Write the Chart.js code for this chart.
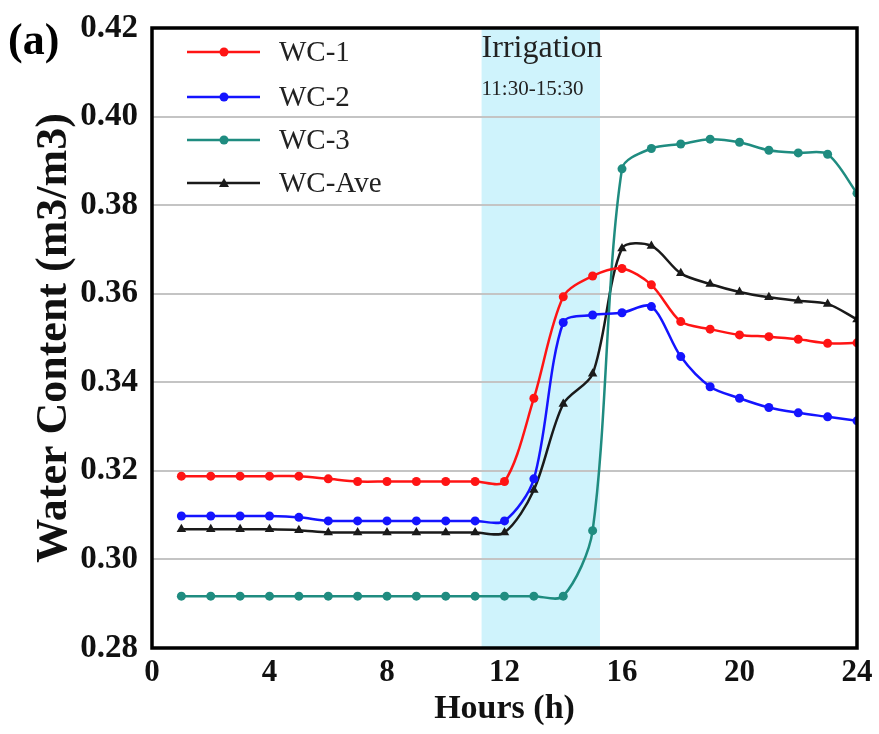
<!DOCTYPE html>
<html>
<head>
<meta charset="utf-8">
<script src="https://cdn.jsdelivr.net/npm/chart.js@4.4.1/dist/chart.umd.min.js"></script>
<style>
  html, body { margin: 0; padding: 0; background: #fff; }
  #wrap { width: 879px; height: 734px; }
</style>
</head>
<body>
<div id="wrap"><canvas id="myChart"></canvas></div>
<script>
// Horas (eixo x)
const hours = [1, 2, 3, 4, 5, 6, 7, 8, 9, 10, 11, 12, 13, 14, 15, 16, 17, 18, 19, 20, 21, 22, 23, 24];
// Series
const wc1 = [0.3188, 0.3188, 0.3188, 0.3188, 0.3188, 0.3182, 0.3176, 0.3176, 0.3176, 0.3176, 0.3176, 0.3176,
  0.3364, 0.3593, 0.3640, 0.3657, 0.3620, 0.3537, 0.3520, 0.3507, 0.3503, 0.3497, 0.3488, 0.3489];
const wc2 = [0.3098, 0.3098, 0.3098, 0.3098, 0.3095, 0.3087, 0.3087, 0.3087, 0.3087, 0.3087, 0.3087, 0.3087,
  0.3182, 0.3535, 0.3552, 0.3557, 0.3571, 0.3458, 0.3390, 0.3364, 0.3343, 0.3331, 0.3322, 0.3313];
const wc3 = [0.2917, 0.2917, 0.2917, 0.2917, 0.2917, 0.2917, 0.2917, 0.2917, 0.2917, 0.2917, 0.2917, 0.2917,
  0.2917, 0.2917, 0.3065, 0.3882, 0.3928, 0.3938, 0.3949, 0.3942, 0.3924, 0.3918, 0.3915, 0.3827];
const wcAve = [0.3068, 0.3068, 0.3068, 0.3068, 0.3066, 0.3061, 0.3061, 0.3061, 0.3061, 0.3061, 0.3061, 0.3061,
  0.3157, 0.3351, 0.3419, 0.3702, 0.3708, 0.3646, 0.3622, 0.3604, 0.3592, 0.3584, 0.3577, 0.3542];
const seriesNames = ["WC-1", "WC-2", "WC-3", "WC-Ave"];
const seriesColors = ["#ff1414", "#1414ff", "#1f8c80", "#1a1a1a"];
const xTicks = [0, 4, 8, 12, 16, 20, 24];
const yTicks = [0.28, 0.30, 0.32, 0.34, 0.36, 0.38, 0.40, 0.42];
// Periodo de irrigacao (como desenhado)
const irrigation = [11.22, 15.25];

const serif = "'Liberation Serif', 'Times New Roman', serif";

const toPoints = (vals) => hours.map((h, i) => ({ x: h, y: vals[i] }));

// Faixa de irrigacao + moldura + textos
const extras = {
  id: "extras",
  beforeDraw(chart) {
    const { ctx, chartArea, scales } = chart;
    const x0 = scales.x.getPixelForValue(irrigation[0]);
    const x1 = scales.x.getPixelForValue(irrigation[1]);
    ctx.save();
    ctx.fillStyle = "#cff3fc";
    ctx.fillRect(x0, chartArea.top, x1 - x0, chartArea.bottom - chartArea.top);
    ctx.restore();
  },
  afterDraw(chart) {
    const { ctx, chartArea, scales } = chart;
    ctx.save();
    ctx.strokeStyle = "#000";
    ctx.lineWidth = 3.5;
    ctx.strokeRect(chartArea.left, chartArea.top, chartArea.right - chartArea.left, chartArea.bottom - chartArea.top);

    ctx.fillStyle = "#000";
    ctx.textBaseline = "middle";
    ctx.textAlign = "left";
    ctx.font = "bold 44px " + serif;
    ctx.fillText("(a)", 8, 43);

    const xi = scales.x.getPixelForValue(irrigation[0]);
    ctx.fillStyle = "#222";
    ctx.font = "32px " + serif;
    ctx.fillText("Irrigation", xi, 49);
    ctx.font = "21px " + serif;
    ctx.fillText("11:30-15:30", xi, 89);

    // legenda
    const ys = [52, 97, 140, 183];
    chart.data.datasets.forEach((ds, i) => {
      const y = ys[i];
      ctx.strokeStyle = ds.borderColor;
      ctx.lineWidth = 2.5;
      ctx.beginPath();
      ctx.moveTo(187, y);
      ctx.lineTo(260, y);
      ctx.stroke();
      ctx.fillStyle = ds.borderColor;
      ctx.beginPath();
      if (ds.pointStyle === "triangle") {
        ctx.moveTo(224, y - 5);
        ctx.lineTo(229, y + 4);
        ctx.lineTo(219, y + 4);
        ctx.closePath();
      } else {
        ctx.arc(224, y, 4.5, 0, Math.PI * 2);
      }
      ctx.fill();
      ctx.fillStyle = "#222";
      ctx.font = "29px " + serif;
      ctx.fillText(ds.label, 279, y + 1);
    });
    ctx.restore();
  },
};

const allSeries = [wc1, wc2, wc3, wcAve];

const grafico = () => {
  let ctx = document.getElementById("myChart").getContext("2d");
  new Chart(ctx, {
    type: "line",
    data: {
      datasets: allSeries.map((vals, i) => ({
        label: seriesNames[i],
        data: toPoints(vals),
        borderColor: seriesColors[i],
        backgroundColor: seriesColors[i],
        borderWidth: 2.5,
        pointRadius: i === 3 ? 5.5 : 4.5,
        pointStyle: i === 3 ? "triangle" : "circle",
        pointBorderWidth: 0,
        tension: 0.3,
        fill: false,
      })),
    },
    options: {
      responsive: true,
      maintainAspectRatio: false,
      animation: false,
      layout: { padding: { left: 0, right: 22, top: 28, bottom: 0 } },
      plugins: { legend: { display: false }, tooltip: { enabled: false } },
      scales: {
        x: {
          type: "linear",
          min: 0,
          max: 24,
          afterFit: (s) => { s.height = 86; },
          afterBuildTicks: (s) => { s.ticks = xTicks.map((v) => ({ value: v })); },
          grid: { display: false, drawTicks: false },
          border: { display: false },
          ticks: { color: "#111", font: { family: serif, size: 31, weight: "bold" }, padding: 6 },
          title: {
            display: true,
            text: "Hours (h)",
            color: "#111",
            font: { family: serif, size: 34, weight: "bold" },
            padding: { top: 0, bottom: 4 },
          },
        },
        y: {
          min: 0.28,
          max: 0.42,
          afterFit: (s) => { s.width = 152; s.paddingTop = 0; s.paddingBottom = 0; },
          afterBuildTicks: (s) => { s.ticks = yTicks.map((v) => ({ value: v })); },
          grid: { color: "#c4c4c4", lineWidth: 2, drawTicks: false },
          border: { display: false },
          ticks: {
            color: "#111",
            font: { family: serif, size: 33, weight: "bold", lineHeight: 1 },
            padding: 14,
            callback: (v) => v.toFixed(2),
          },
          title: {
            display: true,
            text: "Water Content (m3/m3)",
            color: "#111",
            font: { family: serif, size: 44, weight: "bold" },
            padding: { top: 28, bottom: 0 },
          },
        },
      },
    },
    plugins: [extras],
  });
};
grafico();
</script>
</body>
</html>
